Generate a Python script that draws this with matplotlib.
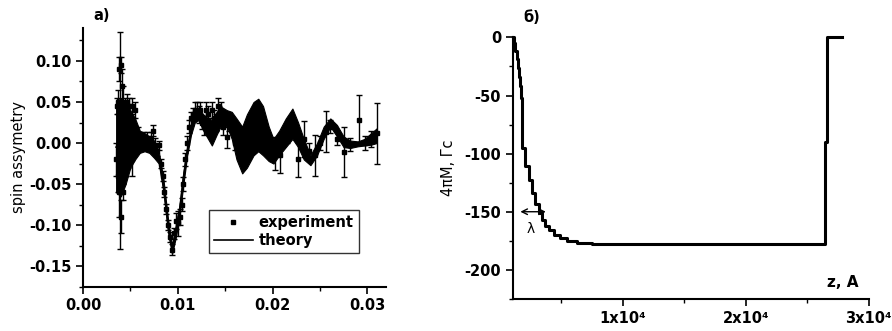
import numpy as np
import matplotlib.pyplot as plt
from matplotlib.lines import Line2D

# ---- panel a): spin asymmetry ----
# theory curve, drawn as an envelope band (fast oscillations)
q_theory = [0.0035, 0.0040, 0.0045, 0.0050, 0.0055, 0.0060, 0.0065, 0.0070, 0.0075,
            0.0080, 0.0085, 0.0090, 0.0094, 0.0098, 0.0102, 0.0106, 0.0110, 0.0114,
            0.0118, 0.0122, 0.0127, 0.0132, 0.0136, 0.0141, 0.0146, 0.0152, 0.0157,
            0.0162, 0.0168, 0.0173, 0.0180, 0.0185, 0.0190, 0.0196, 0.0201, 0.0207,
            0.0214, 0.0221, 0.0227, 0.0233, 0.0240, 0.0247, 0.0254, 0.0261, 0.0268,
            0.0275, 0.0282, 0.0290, 0.0297, 0.0304, 0.0310]
theory_hi = [0.050, 0.055, 0.050, 0.040, 0.030, 0.015, 0.012, 0.008, 0.003,
             -0.010, -0.045, -0.095, -0.125, -0.100, -0.075, -0.035, -0.005, 0.020,
             0.040, 0.042, 0.035, 0.030, 0.028, 0.038, 0.044, 0.040, 0.038,
             0.030, 0.020, 0.035, 0.050, 0.054, 0.045, 0.020, 0.005, 0.015,
             0.030, 0.042, 0.025, 0.005, -0.015, 0.000, 0.020, 0.030, 0.022,
             0.008, 0.003, 0.002, 0.005, 0.012, 0.018]
theory_lo = [-0.060, -0.065, -0.050, -0.030, -0.020, -0.012, -0.010, -0.012, -0.018,
             -0.025, -0.060, -0.110, -0.135, -0.115, -0.088, -0.050, -0.015, 0.010,
             0.025, 0.028, 0.015, 0.005, -0.003, 0.010, 0.022, 0.020, 0.005,
             -0.020, -0.037, -0.030, -0.015, -0.010, -0.015, -0.022, -0.025, -0.015,
             -0.005, 0.005, -0.005, -0.020, -0.027, -0.015, 0.005, 0.020, 0.008,
             -0.005, -0.006, -0.004, -0.003, -0.002, 0.000]

# experiment points: q, asymmetry, error
q_exp = [0.0035, 0.0036, 0.0037, 0.0037, 0.0038, 0.0038, 0.0039, 0.0040, 0.0040, 0.0041,
         0.0042, 0.0042, 0.0043, 0.0044, 0.0045, 0.0046, 0.0047, 0.0048, 0.0049, 0.0050,
         0.0052, 0.0052, 0.0053, 0.0055, 0.0056, 0.0058, 0.0060, 0.0062, 0.0064, 0.0066,
         0.0068, 0.0070, 0.0072, 0.0074, 0.0076, 0.0078, 0.0080, 0.0082, 0.0084, 0.0086,
         0.0088, 0.0090, 0.0092, 0.0094, 0.0096, 0.0098, 0.0100, 0.0102, 0.0104, 0.0106,
         0.0108, 0.0110, 0.0112, 0.0114, 0.0116, 0.0118, 0.0120, 0.0122, 0.0124, 0.0126,
         0.0128, 0.0130, 0.0132, 0.0134, 0.0136, 0.0138, 0.0140, 0.0142, 0.0144, 0.0146,
         0.0148, 0.0152, 0.0154, 0.0160, 0.0168, 0.0176, 0.0184, 0.0192, 0.0198, 0.0203,
         0.0208, 0.0215, 0.0221, 0.0227, 0.0233, 0.0238, 0.0245, 0.0250, 0.0256, 0.0261,
         0.0268, 0.0275, 0.0282, 0.0291, 0.0298, 0.0304, 0.0310]
asym_exp = [-0.020, 0.045, 0.050, -0.040, 0.090, -0.060, 0.003, 0.095, -0.090, 0.070,
            0.050, -0.060, 0.020, 0.045, -0.020, 0.050, 0.030, -0.010, 0.045, 0.010,
            -0.020, 0.045, 0.020, 0.040, 0.000, 0.010, 0.005, 0.000, 0.005, 0.000,
            0.005, 0.000, 0.005, 0.015, -0.002, -0.010, -0.003, -0.025, -0.040, -0.060,
            -0.080, -0.100, -0.115, -0.130, -0.110, -0.095, -0.098, -0.090, -0.075, -0.050,
            -0.020, 0.000, 0.020, 0.030, 0.035, 0.040, 0.040, 0.035, 0.040, 0.025,
            0.020, 0.040, 0.035, 0.020, 0.040, 0.030, 0.025, 0.045, 0.035, 0.040,
            0.020, 0.007, 0.025, 0.000, 0.010, 0.020, 0.030, 0.005, -0.010, -0.013,
            -0.014, 0.010, 0.020, -0.020, 0.005, -0.010, -0.015, 0.000, 0.014, 0.020,
            0.005, -0.011, -0.002, 0.028, 0.000, 0.005, 0.012]
err_exp = [0.020, 0.010, 0.015, 0.020, 0.015, 0.030, 0.132, 0.010, 0.020, 0.020,
           0.020, 0.010, 0.020, 0.010, 0.020, 0.010, 0.015, 0.020, 0.010, 0.015,
           0.020, 0.010, 0.010, 0.010, 0.010, 0.010, 0.008, 0.008, 0.008, 0.008,
           0.008, 0.008, 0.008, 0.007, 0.008, 0.006, 0.006, 0.006, 0.006, 0.006,
           0.006, 0.006, 0.006, 0.007, 0.007, 0.010, 0.015, 0.010, 0.008, 0.008,
           0.008, 0.008, 0.008, 0.008, 0.008, 0.010, 0.010, 0.010, 0.010, 0.008,
           0.010, 0.010, 0.010, 0.010, 0.010, 0.010, 0.010, 0.010, 0.010, 0.010,
           0.010, 0.013, 0.010, 0.008, 0.008, 0.008, 0.008, 0.008, 0.010, 0.020,
           0.022, 0.010, 0.008, 0.021, 0.022, 0.010, 0.025, 0.008, 0.025, 0.008,
           0.008, 0.030, 0.008, 0.030, 0.008, 0.010, 0.037]

# ---- panel б): magnetization profile ----
z_prof = [1100, 1200, 1300, 1400, 1500, 1600, 1700, 1780, 1840, 2110, 2380, 2650, 2920,
          3190, 3460, 3730, 4000, 4400, 4900, 5500, 6300, 7500, 26440, 26580, 26640, 27790]
m_prof = [0, -5, -12, -19, -26, -34, -42, -52, -95, -111, -123, -134, -143,
          -151, -157, -162, -166, -170, -173, -175, -176.5, -177.5, -90, -85, 0, 0]

fig = plt.figure(figsize=(8.92, 3.31), dpi=100)
bold = dict(fontweight="bold", fontsize=10.5)

ax1 = fig.add_axes([0.093, 0.134, 0.340, 0.781])
ax1.fill_between(q_theory, theory_lo, theory_hi, color="black", lw=0.8)
ax1.plot(q_theory, (np.array(theory_hi) + np.array(theory_lo)) / 2, color="black", lw=1.2)
ax1.errorbar(q_exp, asym_exp, yerr=err_exp, fmt="s", color="black", ms=3.5,
             elinewidth=1, capsize=2.5, capthick=1)
ax1.set_xlim(0, 0.032)
ax1.set_ylim(-0.175, 0.14)
ax1.set_xticks([0.0, 0.01, 0.02, 0.03])
ax1.set_xticklabels(["0.00", "0.01", "0.02", "0.03"], **bold)
ax1.set_yticks([-0.15, -0.10, -0.05, 0.0, 0.05, 0.10])
ax1.set_yticklabels(["-0.15", "-0.10", "-0.05", "0.00", "0.05", "0.10"], **bold)
ax1.set_xticks(np.arange(0.005, 0.032, 0.01), minor=True)
ax1.set_yticks(np.arange(-0.175, 0.14, 0.025), minor=True)
ax1.set_ylabel("spin assymetry", fontsize=10.5, labelpad=2)
handles = [Line2D([], [], ls="none", marker="s", ms=3.5, color="black"),
           Line2D([], [], color="black", lw=1.2)]
leg = ax1.legend(handles, ["experiment", "theory"], loc="lower right",
                 bbox_to_anchor=(0.934, 0.103), fancybox=False, edgecolor="black",
                 handlelength=2.7, borderpad=0.35, labelspacing=0.15, handletextpad=0.4,
                 prop=dict(weight="bold", size=10.5))
leg.get_frame().set_linewidth(1.0)

ax2 = fig.add_axes([0.575, 0.097, 0.399, 0.790])
ax2.plot(z_prof, m_prof, drawstyle="steps-post", color="black", lw=2.2, clip_on=False)
ax2.set_xlim(1100, 30000)
ax2.set_ylim(-225, 0)
ax2.set_xticks([10000, 20000, 30000])
ax2.set_xticklabels(["1x10⁴", "2x10⁴", "3x10⁴"], **bold)
ax2.set_xticks([5000, 15000, 25000], minor=True)
ax2.set_yticks([-200, -150, -100, -50, 0])
ax2.set_yticklabels(["-200", "-150", "-100", "-50", "0"], **bold)
ax2.set_yticks(np.arange(-225, 0, 25), minor=True)
ax2.set_ylabel("4πM, Гс", fontsize=10.5, labelpad=6)
ax2.annotate("", xy=(1480, -150), xytext=(4000, -150),
             arrowprops=dict(arrowstyle="<->", color="black", lw=1))
ax2.text(2514, -165, "λ", ha="center", va="center", fontsize=10)
ax2.text(27900, -211, "z, A", ha="center", va="center", fontweight="bold", fontsize=11)

for ax in (ax1, ax2):
    ax.spines["top"].set_visible(False)
    ax.spines["right"].set_visible(False)
    ax.spines["left"].set_linewidth(1.5)
    ax.spines["bottom"].set_linewidth(1.5)
    ax.tick_params(which="major", length=5, width=1.2)
    ax.tick_params(which="minor", length=3, width=1)

fig.text(93 / 892, 1 - 15 / 331, "a)", fontweight="bold", fontsize=10.5, va="center")
fig.text(523 / 892, 1 - 18 / 331, "б)", fontweight="bold", fontsize=10.5, va="center")

plt.savefig("out.png", dpi=100)
